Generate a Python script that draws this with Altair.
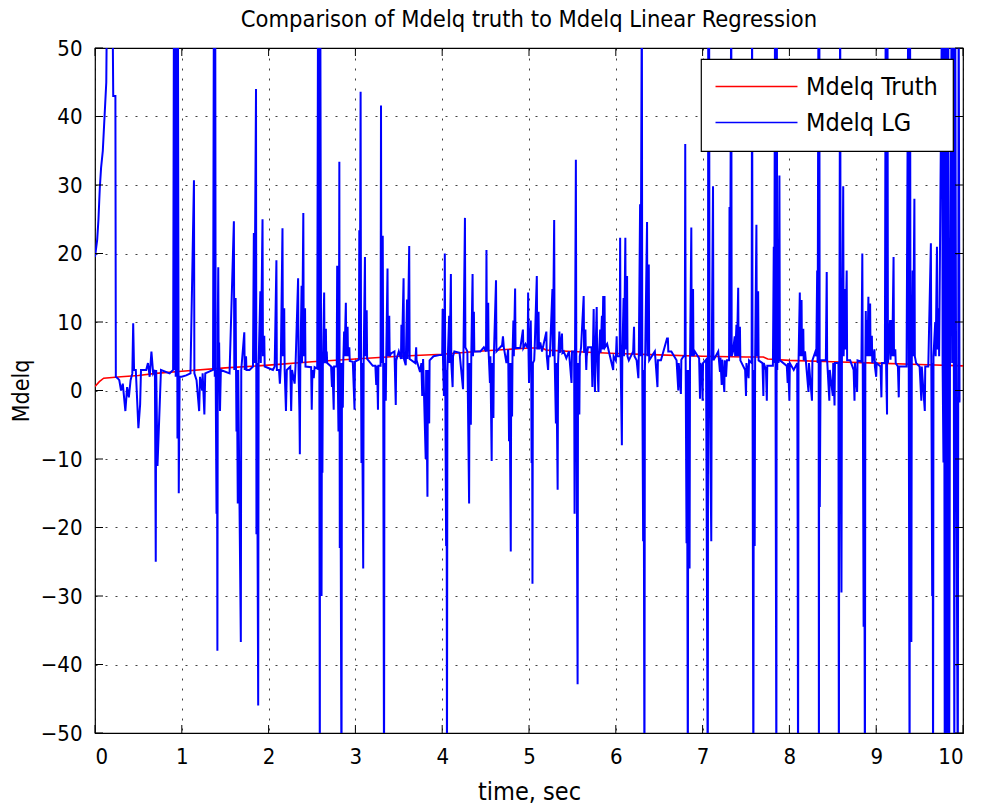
import altair as alt
import pandas as pd

title_text = "Comparison of Mdelq truth to Mdelq Linear Regression"
x_title = "time, sec"
y_title = "Mdelq"
series_names = ["Mdelq Truth", "Mdelq LG"]
series_colors = ["#ff0000", "#0000ff"]
x_ticks = [0, 1, 2, 3, 4, 5, 6, 7, 8, 9, 10]
y_ticks = [-50, -40, -30, -20, -10, 0, 10, 20, 30, 40, 50]

truth_time = [0.0, 0.05, 0.1, 0.3, 0.5, 0.7, 1.0, 1.5, 2.0, 2.5, 3.0, 3.5, 4.0, 4.5,
              5.0, 5.15, 5.2, 5.5, 6.0, 6.5, 7.0, 7.5, 7.7, 7.75, 8.0, 8.5, 9.0, 9.5, 10.0]
truth_value = [0.6, 1.3, 1.8, 2.0, 2.2, 2.5, 2.8, 3.3, 3.7, 4.2, 4.6, 5.0, 5.3, 5.8,
               6.2, 6.2, 5.9, 5.7, 5.4, 5.2, 5.0, 4.9, 4.9, 4.6, 4.4, 4.2, 4.0, 3.8, 3.6]

lg_time = [
    0.000, 0.010, 0.025, 0.040, 0.055, 0.070, 0.090, 0.130, 0.140, 0.200, 0.210, 0.235, 0.240,
    0.260, 0.280, 0.300, 0.320, 0.350, 0.370, 0.390, 0.410, 0.430, 0.440, 0.450, 0.470, 0.500, 0.520, 0.530, 0.590, 0.610, 0.630, 0.650, 0.670, 0.690, 0.700, 0.705, 0.720, 0.740, 0.760, 0.860, 0.900,
    0.910, 0.915, 0.920, 0.930, 0.940, 0.950, 0.955, 0.965, 0.975,
    1.000, 1.050, 1.100, 1.140, 1.145, 1.170, 1.200, 1.210, 1.235, 1.240, 1.260, 1.270, 1.360,
    1.370, 1.380, 1.385, 1.390, 1.400, 1.405, 1.410, 1.415, 1.420, 1.425, 1.430, 1.440, 1.450,
    1.550, 1.600, 1.605, 1.620, 1.625, 1.630, 1.635, 1.645, 1.650, 1.680, 1.685, 1.720, 1.725, 1.740, 1.745, 1.780,
    1.820, 1.830, 1.835, 1.855, 1.860, 1.865, 1.880, 1.885, 1.905, 1.910, 1.930, 1.935, 1.950, 1.955, 2.050,
    2.070, 2.090, 2.095, 2.120, 2.130, 2.140, 2.160, 2.165, 2.180, 2.185, 2.200, 2.210, 2.250, 2.260, 2.270, 2.300, 2.310, 2.340, 2.345, 2.355, 2.360, 2.365, 2.380, 2.385, 2.400, 2.405, 2.420, 2.425,
    2.490, 2.497, 2.505, 2.520, 2.530, 2.560, 2.570, 2.575, 2.580, 2.590, 2.595, 2.605, 2.610, 2.615, 2.620, 2.625, 2.640, 2.645, 2.660, 2.665, 2.670, 2.675,
    2.720, 2.730, 2.735, 2.750, 2.755, 2.785, 2.790, 2.795, 2.805, 2.810, 2.815, 2.820, 2.825, 2.840, 2.845, 2.855, 2.860, 2.870, 2.875, 2.890, 2.895, 2.910, 2.915, 2.930, 2.935,
    2.970, 2.990, 2.995, 3.040, 3.045, 3.050, 3.060, 3.065, 3.070, 3.075, 3.090, 3.095, 3.110, 3.115, 3.130, 3.135,
    3.200, 3.230, 3.240, 3.250, 3.260, 3.265, 3.290, 3.295, 3.300, 3.315, 3.320, 3.330, 3.335, 3.350, 3.355, 3.370, 3.375, 3.390, 3.395, 3.410,
    3.450, 3.465, 3.470, 3.500, 3.525, 3.530, 3.535, 3.555, 3.560, 3.580, 3.595, 3.600, 3.620, 3.625, 3.690, 3.700, 3.705,
    3.745, 3.760, 3.770, 3.780, 3.810, 3.815, 3.830, 3.835, 3.850, 3.855, 3.900, 3.980,
    4.000, 4.005, 4.010, 4.020, 4.025, 4.030, 4.035, 4.045, 4.050, 4.055, 4.060, 4.080, 4.085, 4.100, 4.105, 4.120, 4.125, 4.140,
    4.200, 4.240, 4.245, 4.262, 4.267, 4.290, 4.310, 4.315, 4.330, 4.335, 4.350, 4.355, 4.365, 4.370, 4.440, 4.480,
    4.505, 4.510, 4.515, 4.530, 4.535, 4.550, 4.555, 4.570, 4.575, 4.590, 4.595, 4.620, 4.625, 4.690, 4.700, 4.710,
    4.740, 4.760, 4.770, 4.775, 4.790, 4.795, 4.805, 4.810, 4.820, 4.825, 4.840, 4.845, 4.900, 4.930, 4.935, 4.960,
    4.985, 4.990, 4.995, 5.000, 5.005, 5.020, 5.025, 5.030, 5.035, 5.040, 5.045, 5.060, 5.065, 5.090, 5.095, 5.110, 5.115, 5.130, 5.150,
    5.200, 5.205, 5.220, 5.225, 5.240, 5.270, 5.275, 5.290, 5.295, 5.310, 5.315, 5.330, 5.335, 5.350, 5.355, 5.380, 5.385, 5.400, 5.430, 5.460,
    5.490, 5.495, 5.520, 5.525, 5.530, 5.540, 5.545, 5.560, 5.565, 5.580, 5.585, 5.600, 5.630, 5.635, 5.650, 5.655, 5.660, 5.665, 5.680,
    5.720, 5.730, 5.735, 5.745, 5.750, 5.760, 5.765, 5.780, 5.785, 5.800, 5.805, 5.820, 5.825, 5.840, 5.845, 5.855, 5.860, 5.870, 5.875, 5.900,
    5.970, 5.975, 6.000, 6.010, 6.015, 6.045, 6.050, 6.055, 6.070, 6.075, 6.090, 6.095, 6.110, 6.115, 6.130, 6.135, 6.150, 6.200, 6.210, 6.215, 6.240,
    6.260, 6.265, 6.280, 6.285, 6.300, 6.305, 6.315, 6.320, 6.330, 6.335, 6.340, 6.360, 6.365, 6.380, 6.385, 6.450, 6.480, 6.485, 6.520, 6.590, 6.600, 6.605, 6.640,
    6.700, 6.720, 6.725, 6.750, 6.755, 6.780, 6.795, 6.800, 6.805, 6.815, 6.820, 6.830, 6.835, 6.850, 6.855, 6.870, 6.875, 6.890, 6.895, 6.910,
    6.960, 6.970, 6.975, 6.990, 7.000, 7.005, 7.040, 7.060, 7.065, 7.070, 7.075, 7.080, 7.100, 7.105, 7.120, 7.125, 7.180, 7.200, 7.205, 7.220, 7.225,
    7.250, 7.255, 7.270, 7.280, 7.305, 7.310, 7.315, 7.330, 7.335, 7.350, 7.370, 7.375, 7.390, 7.395, 7.410, 7.415, 7.430, 7.435, 7.490, 7.500, 7.505, 7.530, 7.535,
    7.565, 7.570, 7.575, 7.585, 7.590, 7.600, 7.605, 7.620, 7.625, 7.640, 7.645, 7.690, 7.700, 7.705, 7.730, 7.740, 7.745, 7.780,
    7.810, 7.820, 7.825, 7.835, 7.840, 7.850, 7.855, 7.860, 7.870, 7.875, 7.885, 7.890, 7.970, 7.980, 7.985, 8.000, 8.005, 8.050,
    8.090, 8.095, 8.100, 8.105, 8.120, 8.125, 8.140, 8.145, 8.160, 8.165, 8.180, 8.220, 8.225, 8.260, 8.265, 8.300,
    8.310, 8.320, 8.325, 8.335, 8.340, 8.345, 8.350, 8.355, 8.360, 8.420, 8.430, 8.435, 8.460, 8.465, 8.500, 8.505, 8.520, 8.525,
    8.565, 8.570, 8.575, 8.585, 8.590, 8.600, 8.605, 8.620, 8.625, 8.640, 8.645, 8.660, 8.665, 8.700, 8.740, 8.750, 8.755, 8.780, 8.785,
    8.830, 8.840, 8.845, 8.855, 8.860, 8.870, 8.875, 8.880, 8.885, 8.895, 8.900, 8.910, 8.915, 8.930, 8.935, 8.950, 8.955, 8.980, 8.985,
    9.000, 9.005, 9.050, 9.060, 9.065, 9.100, 9.110, 9.115, 9.125, 9.130, 9.135, 9.160, 9.165, 9.180, 9.185, 9.200, 9.205, 9.220, 9.225,
    9.250, 9.260, 9.265, 9.300, 9.350, 9.370, 9.375, 9.385, 9.390, 9.395, 9.405, 9.410, 9.420, 9.425, 9.440, 9.445, 9.460,
    9.500, 9.520, 9.525, 9.560, 9.565, 9.600, 9.630, 9.635, 9.645, 9.650, 9.655, 9.660, 9.680, 9.685, 9.700, 9.705, 9.720, 9.725,
    9.760, 9.765, 9.775, 9.780, 9.790, 9.795, 9.800, 9.810, 9.815, 9.820, 9.830, 9.840, 9.850, 9.870, 9.875, 9.890, 9.900, 9.910, 9.920, 9.940, 9.950, 9.960, 9.970,
]

lg_value = [
    19.5, 20.5, 22, 25, 29.5, 32.5, 35, 45, 60, 60, 43, 43, 2,
    1.8, 1.5, 0, 1, -3, 0.5, -1, 1.5, 2.5, 9.8, 3, 3, -5.5, -2, 3, 3, 4, 2, 5.7, 2.5, 3, -25, 3, -11, -4, 3, 2.5, 3,
    60, 3, 60, 2, 60, -7, 60, -15, 2,
    2, 2.2, 2.5, 30.7, 2.5, 1.5, -3, 2, 0, 2.5, -3.5, 2.5, 3,
    60, 2, 60, 3, -18, 3, -38, 10.5, 18, 3, 7, -3, 3,
    2.5, 24.7, 3, 13.5, 3, -6, 3, -16.5, 3, -36.7, 3, 8.5, 3, 5, 3, 3,
    3.5, 23, 4, 44, -21, 4, -46, 4, 14.5, 4, 25, 5, 8, 3.5, 3,
    3.5, 19, 3, 3, 1, 3.5, 23.7, 5, 12, 3, -3, 3, 3.5, -3, 3, 1, 3.5, 16.4, 3, -3, -9.3, 3, 15.3, 4, 25.9, 5, 12, 3.5,
    3.4, -2.8, 3, 1.8, 3.4, 3.2, 60, 3, 60, -60, 60, 3, -30, 3, -12, 3.5, 14.3, 4, 9, 4, 5.7, 4,
    3.5, 0.5, 3.5, -2.8, 3.5, 3.5, 18.2, 4, -6, 4, 33.4, -23, 4, -60, 4, -2.5, 4, 8.6, 5, 12.8, 5, 9.3, 5, 6.3, 4.3,
    4.2, -2.8, 4.2, 4.5, 23.4, 4.5, 43.6, 4, -10.6, 4, -26, 4, 19.5, 5, 11.7, 4.6,
    3.6, 3.6, 0.8, 3.6, -2.8, 3.6, 3.6, 41.6, 4, 22.6, 4, -60, 4, -1.5, 4.5, 17.8, 5, 10.9, 5, 5.4,
    5.7, -2.1, 4.4, 5.7, 4.6, 9.6, 4.6, 16.4, 4.6, 3.7, 13.3, 4.6, 21.1, 4.6, 4, 6.3, 4.4,
    2.7, 4, -0.8, 4.6, -10, 3, -15.5, 3, -4.8, 4.4, 5, 5.2,
    5.2, 11.9, 4, -0.8, 4, 20, 3, -22.7, 3, -60, 3, 10.9, 4, 17, 4, 0.5, 5, 5.7,
    5.5, 0.2, 5.5, 25.2, 6.3, 5.7, -16.5, 4, -5, 5, 17, 5, 11.5, 5.7, 5.7, 6.3,
    5.7, 20.5, 5.7, 12.8, 5.5, 1.1, 5, -10.3, 4, -4, 5, 16.1, 5.7, 6.6, 7.9, 6.3,
    4, 6, -7.4, 4, -23.5, 4, -3.8, 5, 10.2, 5, 14.9, 6.2, 6.2, 8.9, 6.2, 6.8,
    6.2, 14.3, 5, 1.1, 5, 10.2, 5, -10.6, 4, -28.2, 4, 4.4, 6, 16.7, 6, 11.5, 6, 7, 5.7,
    8.6, 5, 3, 5, 5, 14.8, 5, 24.9, 5, -4.8, 4, -14.5, 4, 8.6, 5.5, 8.3, 5.5, 5.7, 4.7, 5.7,
    1.1, 5.7, 5.7, -18, 5, 33.7, 5, -42.9, 4, -3.5, 5, 6.3, 13.8, 5.5, 8.9, 5, 3, 5, 6.3,
    6.3, 0.5, 5, 11.9, 5, -0.2, 5, 12.2, 5, -0.2, 5, 8.9, 5.5, 10.9, 6, 13.8, 6, 13.8, 6.3, 6.8,
    3, 5, 4.4, 7.9, 5, 5, 22.3, 5, -8, 5, 13.5, 5, 22.3, 6, 16.7, 5, 4.4, 5.7, 9.3, 5, 4.4,
    1.8, 5, 27.2, 5, 60, 3, -22, 3, -60, 3, 6.3, 24.6, 5, 18.4, 4.4, 5.7, 0.5, 4.4, 4.4, 7.6, 7.6, 5.7, 5.7,
    4.4, 0, 4, -0.5, 4.5, 5, 5, 36, 4, -22.3, 3, -60, 3, -26, 4, 23.8, 5, 14.8, 5, 5.7,
    4.7, -1.2, 4, 3.4, -1.5, 4, 4.5, -60, 60, 3, 60, 3, -22, 4, 29.8, 4.4, 5.7, 2.7, 4.8, 0.8, 4.5,
    -0.2, 4.4, 2, 4.4, 4.4, 26.8, 5, 60, 5, 5.7, 7.9, 5, 9.6, 5, 15, 5, 9.3, 4.4, 3, -0.8, 4, 1.8, 4.4,
    4, 60, 3, -60, 3, -22.7, 4, 24.2, 5, 14.5, 4.4, 4, -0.8, 4, 3, -1.5, 3.6, 3.6,
    3.6, 21, 4, 60, 3, -60, 60, 3, 18.9, 4, 31.4, 4.4, 3.6, 1.1, 4, -1.5, 4, 3,
    4, -20, -60, 4, 14.3, 5, 13.2, 5, 9, 4.4, 5.7, -0.2, 4, -1.5, 4.4, 5.7,
    5, 17.5, 4, 60, -60, 60, -17, -6.3, 4.4, 4.4, 17.3, 4.4, -1.5, 3, -0.8, 4, -2.2, 4,
    4, -60, 4, 60, 4, -29.5, 4, 29.8, 5, 14.8, 6, 17.5, 4.4, 4.4, 3, -1.5, 4, -0.2, 4.4,
    4.2, 20, 4, -34.5, 4, -60, 4, 11.6, 5, 10.3, 5, 13.7, 5, 12.7, 5, 8, 4, 6, 3.5,
    2, 4, 3.5, -1, 4, 4, 60, 3, -3.5, 60, 4, 10.3, 4.5, 10.3, 5, 19.5, 5, 6, 4,
    3.5, -1, 3.5, 3.5, 3.5, 60, 3, -60, 60, 3, -36.7, 4, 17.5, 5, 28, 5, 4,
    3.5, -1.5, 3.5, -3, 3.5, 3.5, 21.5, 4, -30, 4, -60, 5, 10, 5, 21, 6, 12, 5,
    60, 4, -10.5, 60, -60, 60, -30, -60, 60, -60, 60, -60, 4, 60, 4, 60, -60, 60, 4, -60, 60, -1.6, -1.6,
]

n = min(len(lg_time), len(lg_value))
df_truth = pd.DataFrame({"t": truth_time, "v": truth_value, "series": series_names[0]})
df_truth["i"] = range(len(df_truth))
df_lg = pd.DataFrame({"t": lg_time[:n], "v": lg_value[:n], "series": series_names[1]})
df_lg["i"] = range(len(df_lg))
df_xt = pd.DataFrame({"t": x_ticks})
df_yt = pd.DataFrame({"v": y_ticks})

W, H = 868, 685
FONT = "DejaVu Sans Condensed, Liberation Sans, sans-serif"

xscale = alt.Scale(domain=[0, 10], nice=False, zero=False)
yscale = alt.Scale(domain=[-50, 50], nice=False, zero=False)
cscale = alt.Scale(domain=series_names, range=series_colors)

xaxis = alt.Axis(values=x_ticks, title=x_title, grid=True, ticks=False, domain=False,
                 labelPadding=13, titlePadding=12, format="d", labelFontSize=22,
                 titleFontSize=25)
yaxis = alt.Axis(values=y_ticks, title=y_title, grid=True, ticks=False, domain=False,
                 labelPadding=13, titlePadding=7, format="d", labelFontSize=22,
                 titleFontSize=23)

truth = alt.Chart(df_truth).mark_line(strokeWidth=1.6, clip=True).encode(
    x=alt.X("t:Q", scale=xscale, axis=xaxis),
    y=alt.Y("v:Q", scale=yscale, axis=yaxis),
    color=alt.Color("series:N", scale=cscale, title=None,
                    legend=alt.Legend(orient="none", legendX=606, legendY=11)),
    order="i:Q",
)
lg = alt.Chart(df_lg).mark_line(strokeWidth=2, clip=True).encode(
    x=alt.X("t:Q", scale=xscale),
    y=alt.Y("v:Q", scale=yscale),
    color=alt.Color("series:N", scale=cscale),
    order="i:Q",
)

tick_len = 8
xt_bottom = alt.Chart(df_xt).mark_rule(color="black", strokeWidth=1).encode(
    x=alt.X("t:Q", scale=xscale), y=alt.value(H), y2=alt.value(H - tick_len))
xt_top = alt.Chart(df_xt).mark_rule(color="black", strokeWidth=1).encode(
    x=alt.X("t:Q", scale=xscale), y=alt.value(0), y2=alt.value(tick_len))
yt_left = alt.Chart(df_yt).mark_rule(color="black", strokeWidth=1).encode(
    y=alt.Y("v:Q", scale=yscale), x=alt.value(0), x2=alt.value(tick_len))
yt_right = alt.Chart(df_yt).mark_rule(color="black", strokeWidth=1).encode(
    y=alt.Y("v:Q", scale=yscale), x=alt.value(W - tick_len), x2=alt.value(W))

chart = alt.layer(truth, lg, xt_bottom, xt_top, yt_left, yt_right).properties(
    width=W, height=H,
    title=alt.TitleParams(title_text, fontSize=23.5, font=FONT, fontWeight="normal",
                          anchor="middle", offset=6, color="black"),
    padding={"left": 95, "top": 48, "right": 18, "bottom": 77},
    autosize=alt.AutoSizeParams(type="none"),
    background="white",
).configure_view(
    stroke="black", strokeWidth=1.2
).configure_axis(
    labelFont=FONT, titleFont=FONT,
    labelColor="black", titleColor="black", titleFontWeight="normal",
    gridColor="black", gridOpacity=0.75, gridDash=[2, 8], gridWidth=1,
).configure_legend(
    fillColor="white", strokeColor="black", strokeWidth=1.2, padding=15,
    symbolType="M-4,0H4", symbolSize=420, symbolStrokeWidth=1.5, symbolOffset=28,
    labelFont=FONT, labelFontSize=25, labelColor="black", labelOffset=37,
    rowPadding=10, cornerRadius=0,
)

chart.save("out.html", embed_options={"renderer": "svg", "actions": False})
